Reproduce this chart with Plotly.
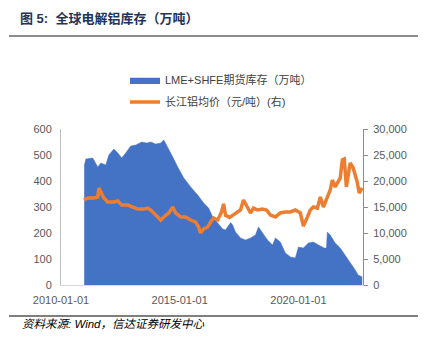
import plotly.graph_objects as go

# ---- data ----
inv_dates = ["2010-12-24", "2011-01-19", "2011-05-05", "2011-06-20", "2011-07-20", "2011-09-05",
             "2011-11-21", "2012-01-07", "2012-03-24", "2012-05-23", "2012-07-23", "2012-09-23",
             "2012-12-09", "2013-02-24", "2013-05-26", "2013-08-11", "2013-10-12", "2013-12-28",
             "2014-03-15", "2014-05-01", "2014-07-01", "2014-09-16", "2014-12-01", "2015-03-04",
             "2015-06-19", "2015-10-05", "2016-01-04", "2016-03-21", "2016-05-22", "2016-08-07",
             "2016-10-23", "2016-12-06", "2017-01-20", "2017-02-22", "2017-03-25", "2017-05-08",
             "2017-07-24", "2017-10-09", "2017-12-25", "2018-03-11", "2018-04-26", "2018-06-27",
             "2018-09-12", "2018-11-28", "2019-01-12", "2019-03-29", "2019-06-14", "2019-08-30",
             "2019-11-14", "2020-01-01", "2020-03-17", "2020-06-02", "2020-08-18", "2020-11-03",
             "2021-02-02", "2021-03-07", "2021-03-20", "2021-05-04", "2021-07-19", "2021-10-05",
             "2021-12-20", "2022-03-07", "2022-05-23", "2022-07-08", "2022-09-08"]
inv_values = [458, 485, 488, 469, 454, 469,
              462, 500, 523, 508, 488, 508,
              535, 538, 550, 546, 550, 542,
              546, 558, 531, 492, 454, 412,
              377, 346, 315, 296, 262, 238,
              215, 212, 227, 240, 231, 204,
              181, 173, 181, 192, 223, 200,
              173, 154, 181, 165, 123, 108,
              104, 146, 142, 162, 165, 154,
              142, 142, 204, 192, 162, 142,
              115, 88, 58, 38, 31]

price_dates = ["2010-12-20", "2011-02-18", "2011-05-22", "2011-07-20", "2011-08-07", "2011-09-05",
               "2011-10-22", "2011-12-20", "2012-03-24", "2012-05-23", "2012-07-23", "2012-10-26",
               "2013-01-26", "2013-03-27", "2013-06-27", "2013-08-28", "2013-10-12", "2013-12-28",
               "2014-03-15", "2014-05-01", "2014-07-16", "2014-09-16", "2014-10-30", "2015-01-15",
               "2015-04-01", "2015-06-19", "2015-09-02", "2015-10-19", "2015-11-17", "2016-01-04",
               "2016-03-06", "2016-04-20", "2016-06-05", "2016-08-07", "2016-10-05", "2016-11-06",
               "2016-12-06", "2017-02-06", "2017-05-08", "2017-07-24", "2017-09-08", "2017-11-09",
               "2017-12-25", "2018-02-09", "2018-04-11", "2018-06-27", "2018-08-28", "2018-10-27",
               "2019-01-12", "2019-03-29", "2019-06-14", "2019-08-30", "2019-11-14", "2020-01-30",
               "2020-03-17", "2020-05-18", "2020-07-01", "2020-08-18", "2020-10-19", "2020-12-03",
               "2021-01-19", "2021-03-20", "2021-05-04", "2021-06-05", "2021-07-19", "2021-10-05",
               "2021-11-06", "2021-12-06", "2022-01-07", "2022-03-07", "2022-04-22", "2022-06-23",
               "2022-07-23", "2022-09-08"]
price_values = [16350, 16730, 16730, 16900, 18650, 17900,
                16730, 15960, 15960, 16150, 15380, 15380,
                15000, 14600, 14600, 14800, 14400, 13460,
                12500, 13080, 13850, 15000, 13850, 13080,
                13080, 12500, 12100, 11150, 10000, 10770,
                11150, 12100, 12880, 12500, 14040, 15600,
                13400, 13000, 13850, 14420, 16350, 14800,
                13850, 14800, 14420, 14600, 14420, 13460,
                13080, 13850, 14040, 14040, 14420, 13850,
                11350, 13080, 14420, 15000, 14800, 16920,
                15000, 16920, 18270, 20190, 18850, 20580,
                24040, 24230, 18850, 23460, 22500, 19810,
                17690, 18650]

left_ticks = [0, 100, 200, 300, 400, 500, 600]
right_ticks = [0, 5000, 10000, 15000, 20000, 25000, 30000]
x_ticks = ["2010-01-01", "2015-01-01", "2020-01-01"]

title_text = "图 5:  全球电解铝库存（万吨）"
source_text = "资料来源: Wind，信达证券研发中心"
inv_name = "LME+SHFE期货库存（万吨）"
price_name = "长江铝均价（元/吨）(右)"

FONT = "Arial, 'Liberation Sans', 'Noto Sans CJK SC', sans-serif"
BLUE = "#4472C4"
ORANGE = "#ED7D31"

fig = go.Figure()
fig.add_trace(go.Scatter(
    x=inv_dates, y=inv_values, name=inv_name, mode="lines",
    fill="tozeroy", fillcolor=BLUE, line=dict(color=BLUE, width=0.5),
    legend="legend", yaxis="y"))
fig.add_trace(go.Scatter(
    x=price_dates, y=price_values, name=price_name, mode="lines",
    line=dict(color=ORANGE, width=3.5), legend="legend2", yaxis="y2"))

W, H = 430, 352
L, R, T, B = 61, 363, 129, 285


def px(xp):
    return (xp - L) / (R - L)


def py(yp):
    return (B - yp) / (B - T)


fig.update_layout(
    width=W, height=H,
    margin=dict(l=L, r=W - R, t=T, b=H - B, pad=0),
    paper_bgcolor="white", plot_bgcolor="white",
    font=dict(family=FONT, size=11, color="#595959"),
    showlegend=True,
    xaxis=dict(
        type="date", range=["2010-01-01", "2022-09-20"],
        tickvals=x_ticks, ticktext=x_ticks,
        showgrid=False, zeroline=False, showline=True, linecolor="#D9D9D9",
        linewidth=1, ticks="", layer="below traces", ticklabelstandoff=5,
        tickfont=dict(size=11, color="#595959"),
    ),
    yaxis=dict(
        range=[0, 600], tickvals=left_ticks, showgrid=False, zeroline=False,
        showline=True, linecolor="#BFBFBF", linewidth=1, ticks="",
        ticklabelstandoff=6, layer="below traces",
        tickfont=dict(size=11, color="#595959"),
    ),
    yaxis2=dict(
        range=[0, 30000], tickvals=right_ticks, overlaying="y", side="right",
        showgrid=False, zeroline=False, showline=True, linecolor="#8C8C8C",
        linewidth=1, ticks="outside", ticklen=4, tickcolor="#8C8C8C",
        tickformat=",d", ticklabelstandoff=3,
        tickfont=dict(size=11, color="#595959"),
    ),
    legend=dict(
        x=px(125), y=py(80), xanchor="left", yanchor="middle",
        bgcolor="rgba(0,0,0,0)", borderwidth=0,
        font=dict(size=11, color="#404040"), itemwidth=30,
    ),
    legend2=dict(
        x=px(125), y=py(102), xanchor="left", yanchor="middle",
        bgcolor="rgba(0,0,0,0)", borderwidth=0,
        font=dict(size=11, color="#404040"), itemwidth=30,
    ),
    annotations=[
        dict(text="<b>" + title_text + "</b>", xref="paper", yref="paper",
             x=px(18), y=py(18), xanchor="left", yanchor="middle", showarrow=False,
             font=dict(size=13, color="#1F3459", family=FONT)),
        dict(text="<i>" + source_text + "</i>", xref="paper", yref="paper",
             x=px(20), y=py(324), xanchor="left", yanchor="middle", showarrow=False,
             font=dict(size=11.5, color="#000000", family=FONT)),
    ],
    shapes=[
        dict(type="line", xref="paper", yref="paper", x0=px(9), x1=px(418),
             y0=py(36), y1=py(36), line=dict(color="#8C8C8C", width=2)),
        dict(type="line", xref="paper", yref="paper", x0=px(9), x1=px(418),
             y0=py(316), y1=py(316), line=dict(color="#000000", width=1)),
    ],
)

fig.write_html("out.html")
